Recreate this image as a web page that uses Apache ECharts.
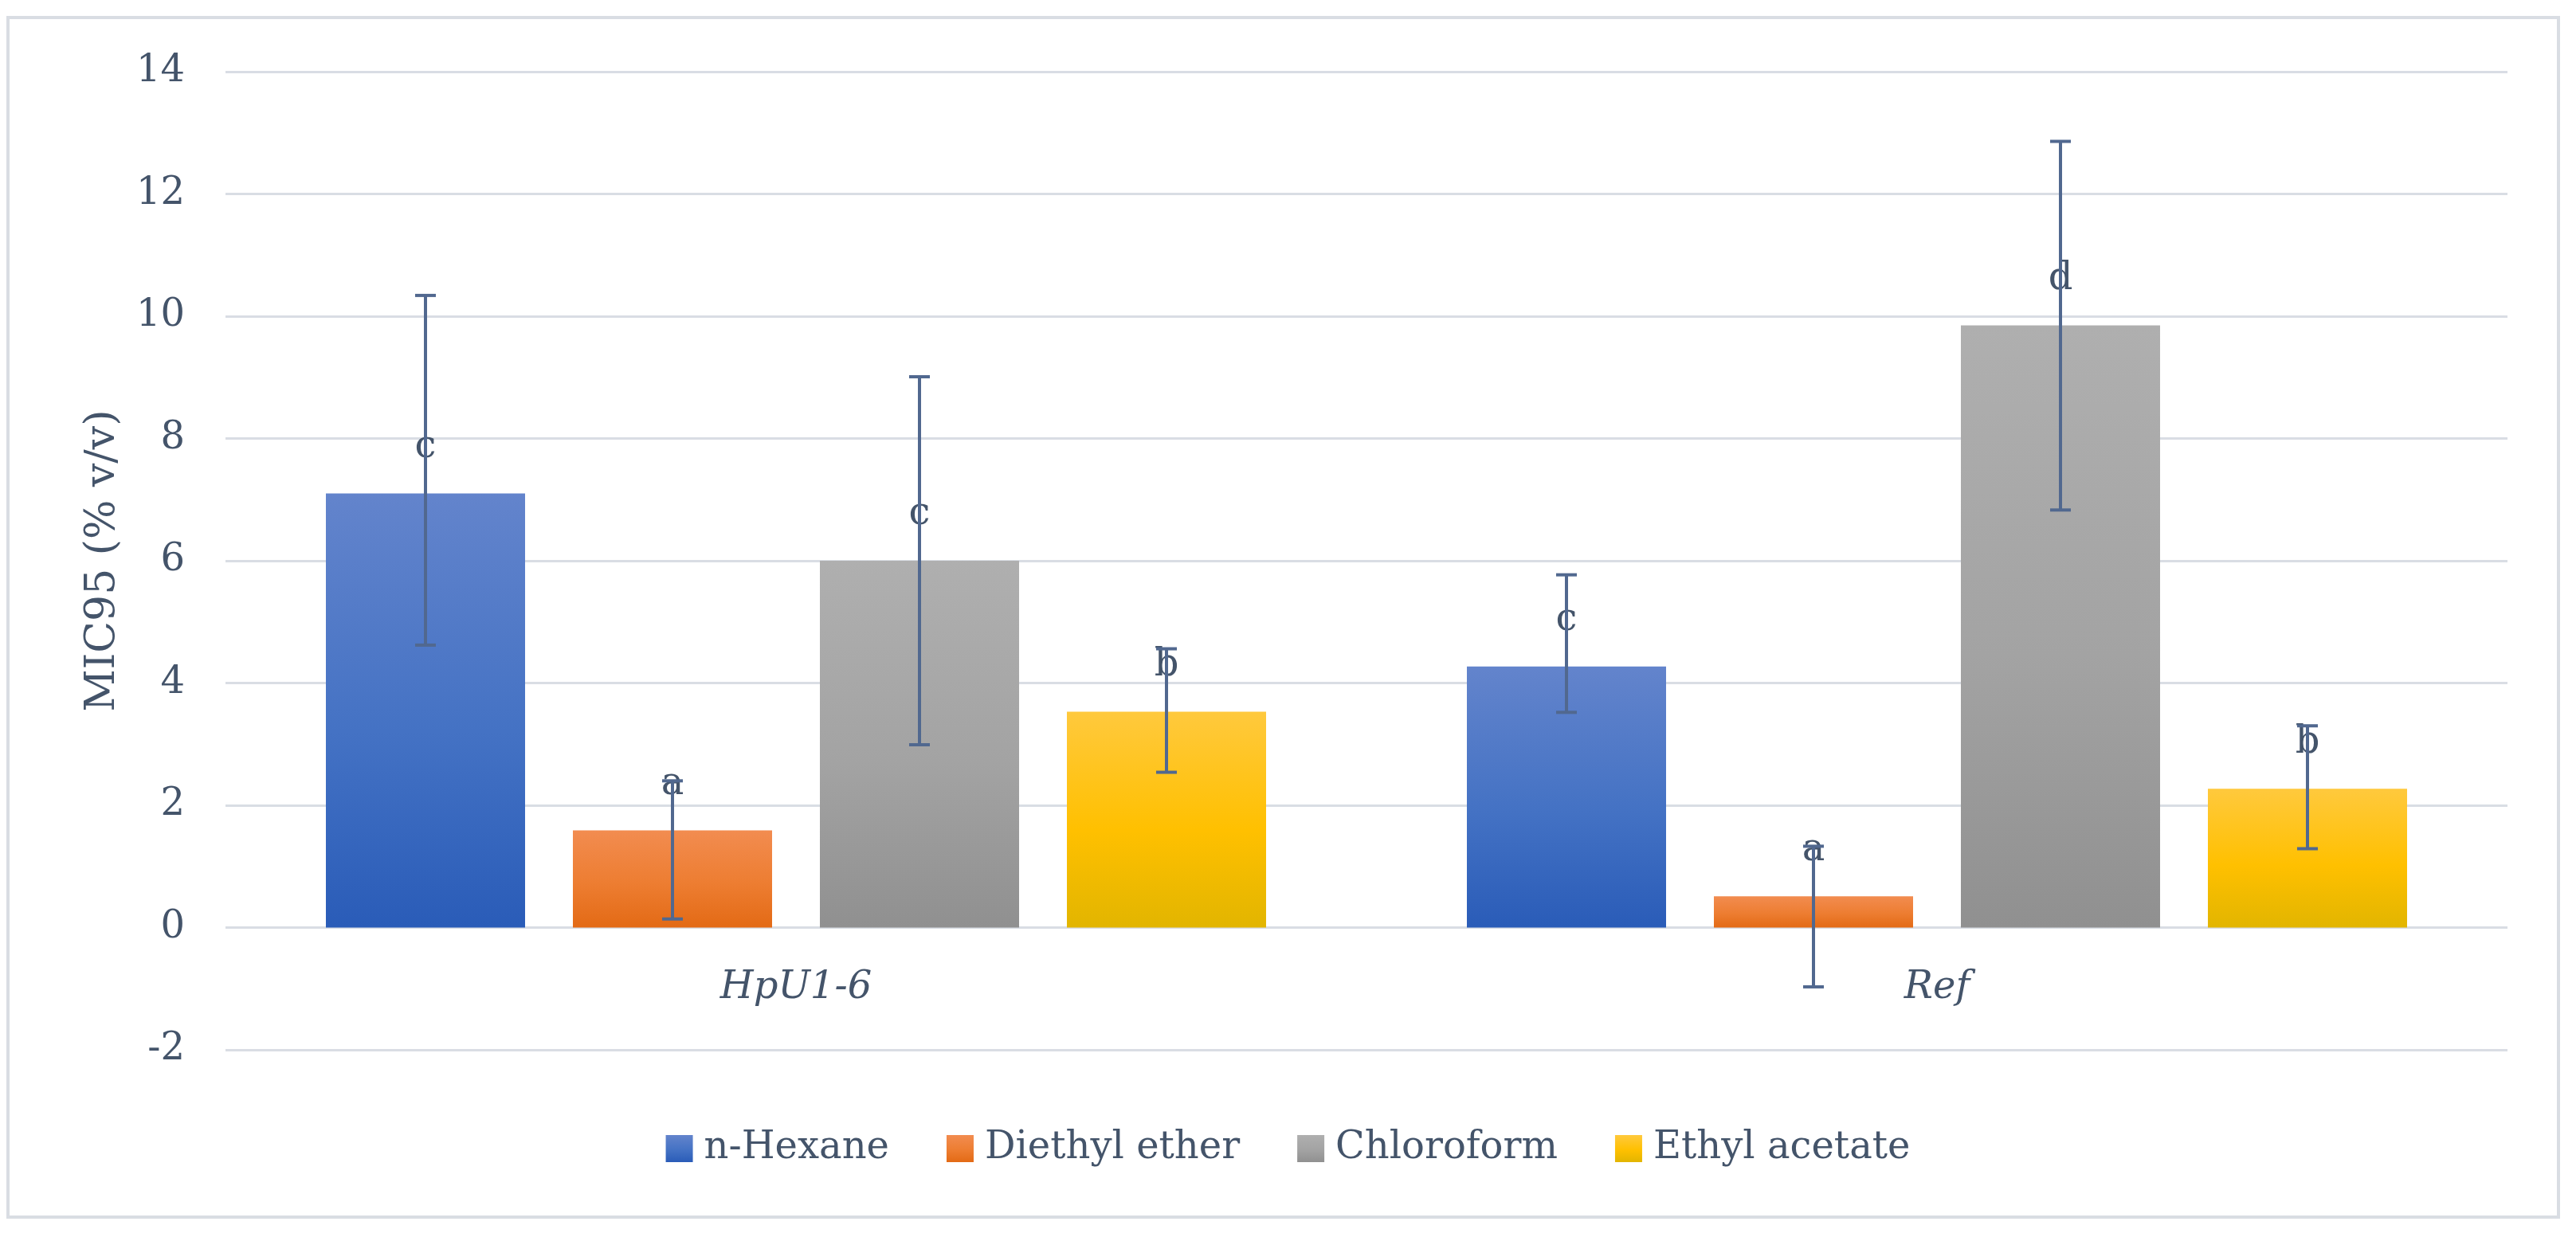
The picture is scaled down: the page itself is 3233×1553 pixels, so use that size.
<!DOCTYPE html>
<html>
<head>
<meta charset="utf-8">
<script src="https://cdn.jsdelivr.net/npm/echarts@6/dist/echarts.min.js"></script>
<style>
html,body{margin:0;padding:0;background:#fff;}
#chart{width:3233px;height:1553px;}
</style>
</head>
<body>
<div id="chart"></div>
<script>
// ---- data ----
const categories = ['HpU1-6', 'Ref'];
const seriesNames = ['n-Hexane', 'Diethyl ether', 'Chloroform', 'Ethyl acetate'];
const nHexane = [7.10, 4.27];
const diethylEther = [1.59, 0.51];
const chloroform = [6.00, 9.85];
const ethylAcetate = [3.53, 2.27];
// error bar ends (upper, lower)
const nHexaneHigh = [10.34, 5.77];
const nHexaneLow = [4.62, 3.52];
const diethylEtherHigh = [2.40, 1.33];
const diethylEtherLow = [0.14, -0.97];
const chloroformHigh = [9.01, 12.86];
const chloroformLow = [2.99, 6.83];
const ethylAcetateHigh = [4.56, 3.30];
const ethylAcetateLow = [2.54, 1.29];
// significance letters
const nHexaneLetters = ['c', 'c'];
const diethylEtherLetters = ['a', 'a'];
const chloroformLetters = ['c', 'd'];
const ethylAcetateLetters = ['b', 'b'];
const yTicks = { min: -2, max: 14, interval: 2 };

// ---- styling ----
const FONT = '"DejaVu Serif", "Liberation Serif", serif';
const TEXT = '#44546A';
const GRID = '#D9DDE4';
const BAR_W = 250;
const BAR_GAP = 0.24;
const GRID_TOP = 90, GRID_BOTTOM = 235, CHART_H = 1553;
const grads = [
  ['#6384CC', '#4472C4', '#2A5CB8'],
  ['#F28C50', '#ED7D31', '#E36A15'],
  ['#AFAFAF', '#A3A3A3', '#909090'],
  ['#FFC93D', '#FFC000', '#E2B500']
];
function grad(c) {
  return new echarts.graphic.LinearGradient(0, 0, 0, 1, [
    { offset: 0, color: c[0] }, { offset: 0.55, color: c[1] }, { offset: 1, color: c[2] }
  ]);
}

const values = [nHexane, diethylEther, chloroform, ethylAcetate];
const highs = [nHexaneHigh, diethylEtherHigh, chloroformHigh, ethylAcetateHigh];
const lows = [nHexaneLow, diethylEtherLow, chloroformLow, ethylAcetateLow];
const letters = [nHexaneLetters, diethylEtherLetters, chloroformLetters, ethylAcetateLetters];

// place the category axis at y = 0 (axis crosses value axis at zero)
const plotH = CHART_H - GRID_TOP - GRID_BOTTOM;
const zeroOffset = -plotH * (0 - yTicks.min) / (yTicks.max - yTicks.min);

const barSeries = seriesNames.map((name, si) => ({
  name: name,
  type: 'bar',
  barWidth: BAR_W,
  barGap: (BAR_GAP * 100) + '%',
  data: values[si],
  itemStyle: { color: grad(grads[si]) },
  label: {
    show: true,
    position: 'top',
    distance: 34,
    color: TEXT,
    fontFamily: FONT,
    fontSize: 48,
    formatter: p => letters[si][p.dataIndex]
  },
  z: 2
}));

const errData = [];
seriesNames.forEach((n, si) => {
  categories.forEach((c, ci) => {
    errData.push([ci, si, lows[si][ci], highs[si][ci]]);
  });
});

const errorSeries = {
  name: 'error',
  type: 'custom',
  z: 3,
  silent: true,
  encode: { x: 0, y: [2, 3] },
  data: errData,
  renderItem: function (params, api) {
    const ci = api.value(0), si = api.value(1);
    const lo = api.value(2), hi = api.value(3);
    const xc = api.coord([ci, 0])[0] + (si - 1.5) * BAR_W * (1 + BAR_GAP);
    const yHi = api.coord([ci, hi])[1];
    const yLo = api.coord([ci, lo])[1];
    const cap = 13;
    const st = { stroke: '#51688F', lineWidth: 4 };
    return {
      type: 'group',
      children: [
        { type: 'line', shape: { x1: xc, y1: yHi, x2: xc, y2: yLo }, style: st },
        { type: 'line', shape: { x1: xc - cap, y1: yHi, x2: xc + cap, y2: yHi }, style: st },
        { type: 'line', shape: { x1: xc - cap, y1: yLo, x2: xc + cap, y2: yLo }, style: st }
      ]
    };
  }
};

const chart = echarts.init(document.getElementById('chart'), null, { renderer: 'canvas' });
chart.setOption({
  backgroundColor: '#ffffff',
  animation: false,
  graphic: [{
    type: 'rect',
    shape: { x: 10, y: 22, width: 3201, height: 1506 },
    style: { fill: 'none', stroke: '#D9DDE3', lineWidth: 4 },
    z: -10
  }],
  grid: { left: 283, right: 86, top: GRID_TOP, bottom: GRID_BOTTOM, containLabel: false },
  legend: {
    data: seriesNames,
    left: 'center',
    top: 1413,
    icon: 'rect',
    itemWidth: 34,
    itemHeight: 34,
    itemGap: 72,
    textStyle: { color: TEXT, fontFamily: FONT, fontSize: 48, padding: [0, 0, 0, 9] }
  },
  xAxis: {
    type: 'category',
    data: categories,
    position: 'bottom',
    offset: zeroOffset,
    axisLine: { show: false, onZero: false },
    axisTick: { show: false },
    axisLabel: { color: TEXT, fontFamily: FONT, fontSize: 48, fontStyle: 'italic', margin: 52 },
    splitLine: { show: false }
  },
  yAxis: {
    type: 'value',
    min: yTicks.min,
    max: yTicks.max,
    interval: yTicks.interval,
    name: 'MIC95 (% v/v)',
    nameLocation: 'middle',
    nameGap: 128,
    nameTextStyle: { color: TEXT, fontFamily: FONT, fontSize: 52 },
    axisLine: { show: false },
    axisTick: { show: false },
    axisLabel: { color: TEXT, fontFamily: FONT, fontSize: 48, margin: 51 },
    splitLine: { lineStyle: { color: GRID, width: 3 } }
  },
  series: barSeries.concat([errorSeries])
});
</script>
</body>
</html>
